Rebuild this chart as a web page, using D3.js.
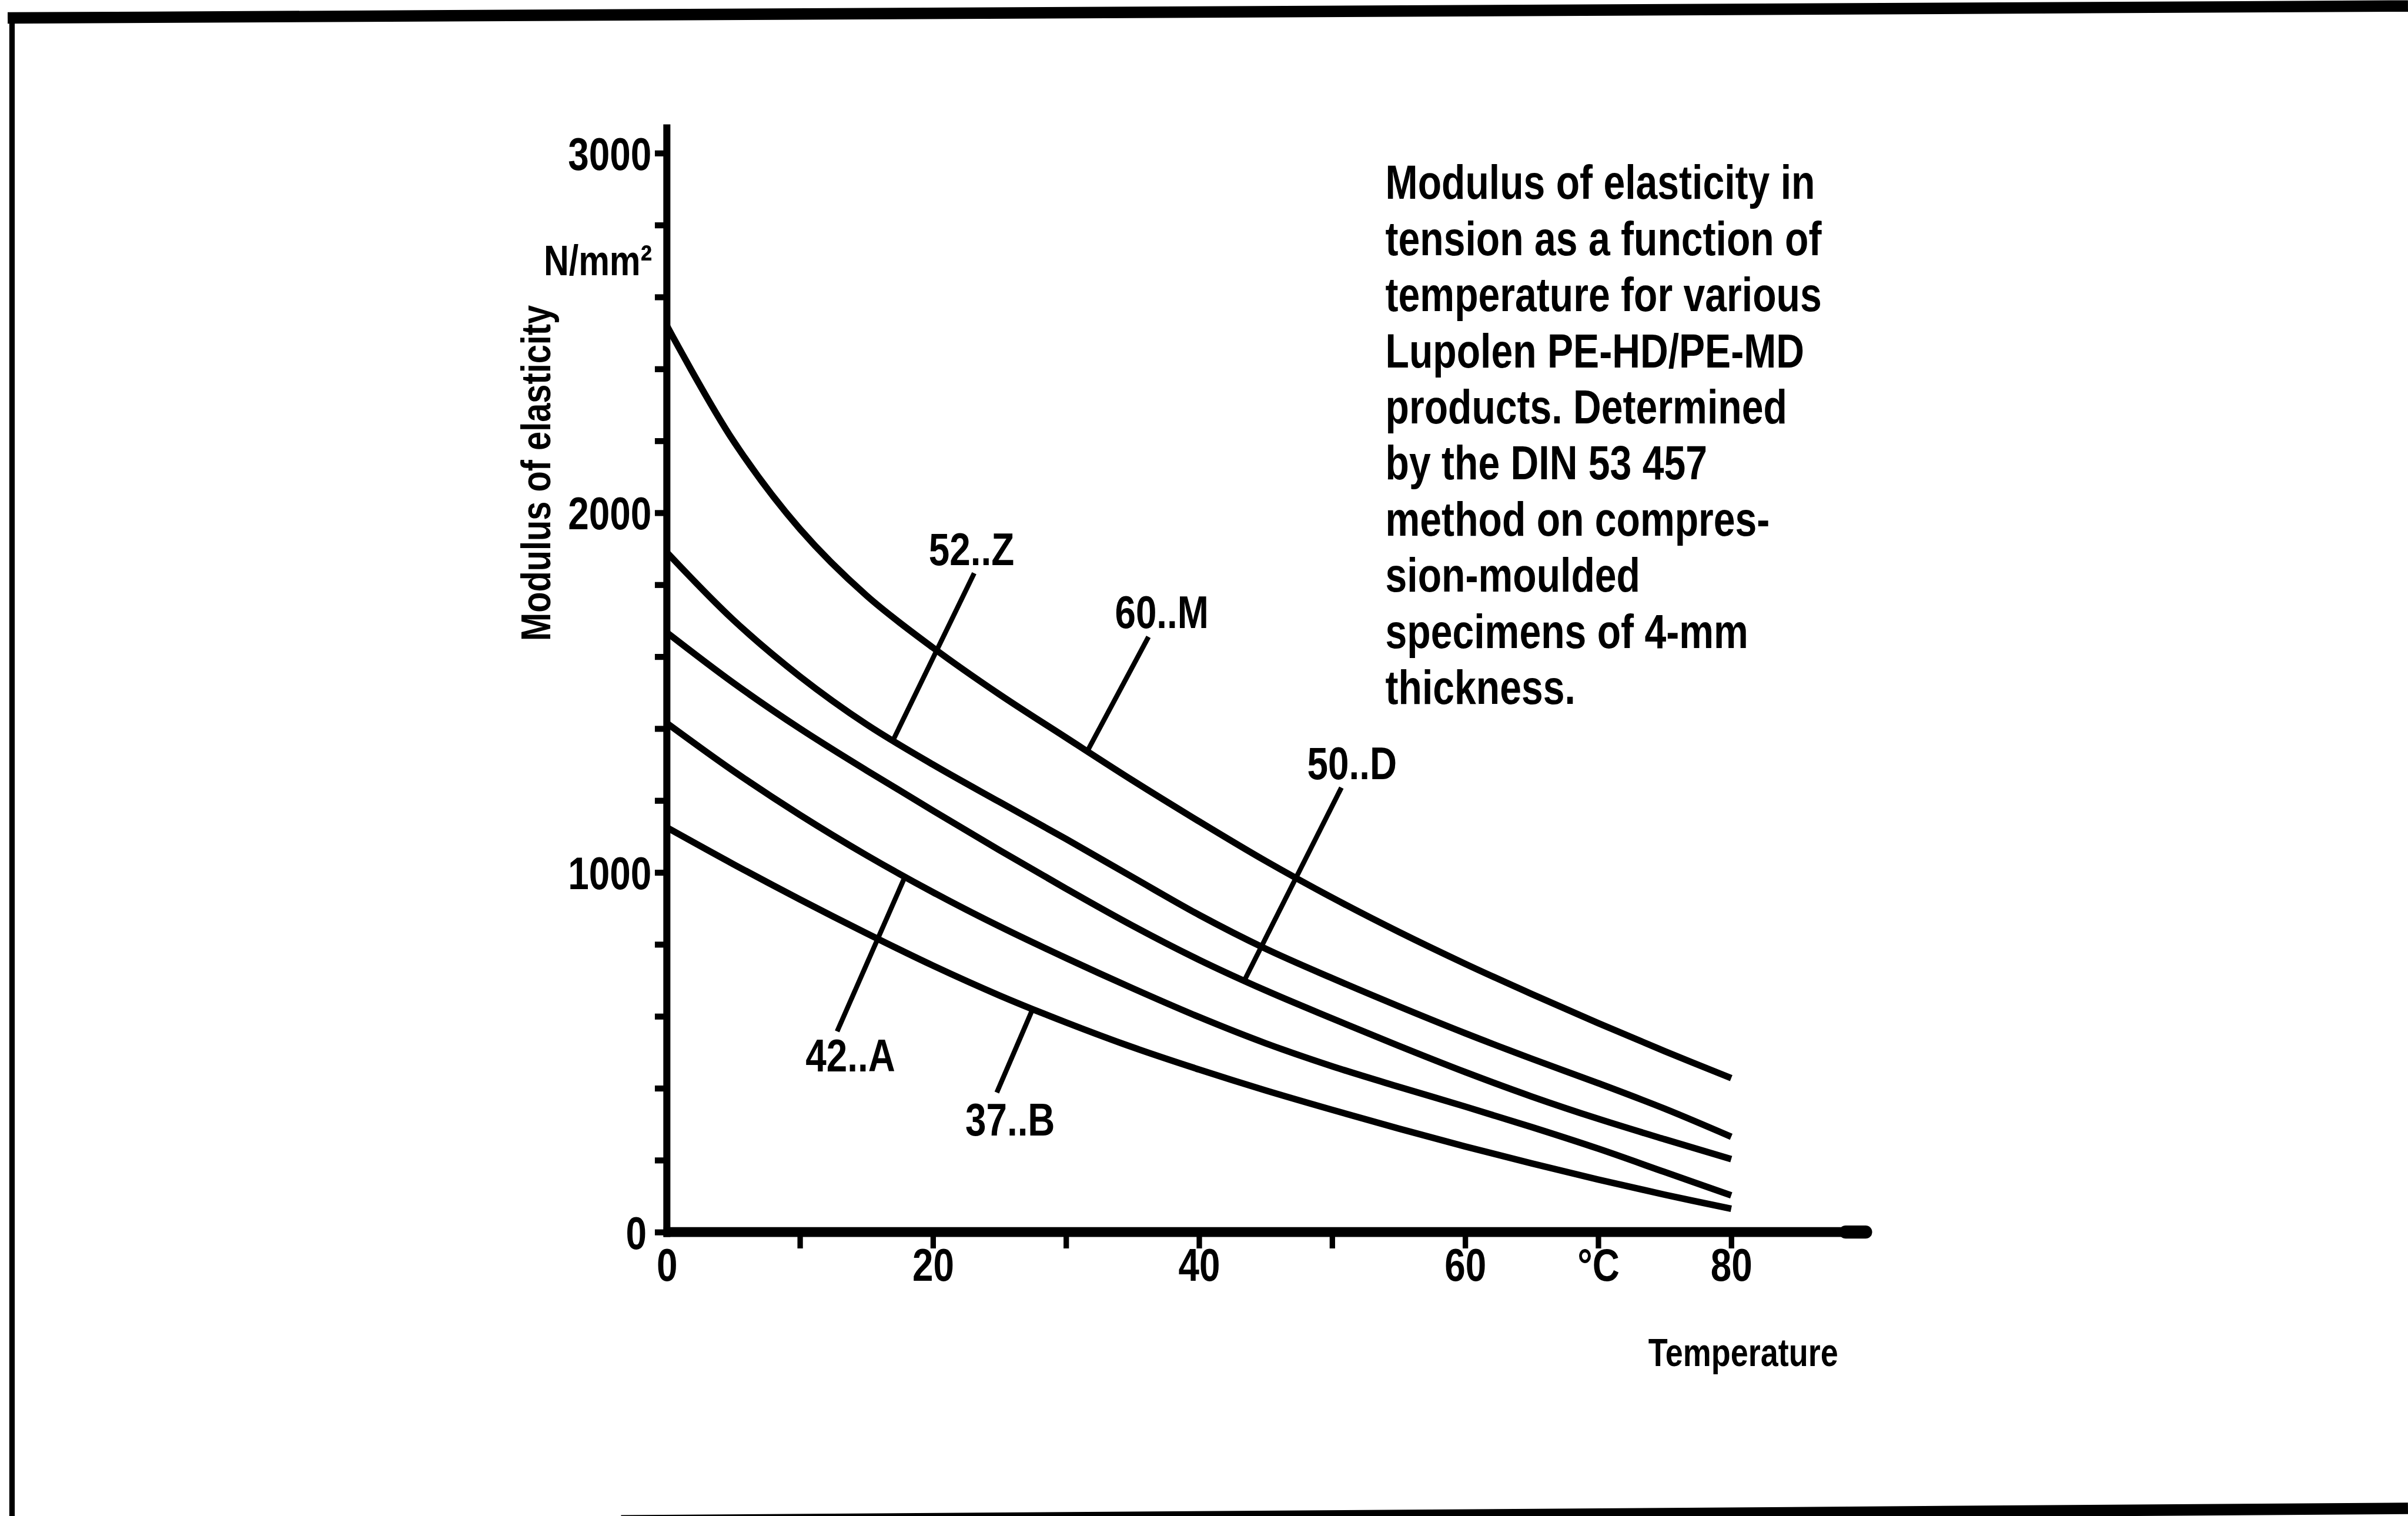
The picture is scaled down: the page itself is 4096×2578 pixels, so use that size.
<!DOCTYPE html>
<html>
<head>
<meta charset="utf-8">
<script src="https://cdn.jsdelivr.net/npm/d3@7"></script>
<style>
  html, body { margin: 0; padding: 0; background: #fff; }
  svg { display: block; }
  text {
    font-family: "Liberation Sans", Arial, sans-serif;
    font-weight: bold;
    fill: #000;
  }
</style>
</head>
<body>
<svg id="canvas"></svg>
<script>
// temperature in °C
const temps = [0, 5, 10, 15, 20, 25, 30, 35, 40, 45, 50, 55, 60, 65, 70, 75, 80]

// modulus of elasticity in N/mm² for each grade
const m60 = [2520, 2200, 1955, 1770, 1625, 1495, 1375, 1256, 1142, 1032, 930, 835, 746, 662, 581, 503, 428]
const z52 = [1890, 1702, 1545, 1412, 1300, 1196, 1093, 987, 882, 788, 706, 628, 553, 482, 414, 343, 265]
const d50 = [1667, 1527, 1400, 1284, 1172, 1062, 955, 852, 757, 672, 594, 518, 445, 377, 315, 258, 203]
const a42 = [1415, 1282, 1160, 1048, 945, 850, 762, 678, 598, 525, 461, 404, 349, 292, 232, 167, 102]
const b37 = [1125, 1023, 925, 831, 741, 658, 583, 514, 452, 394, 340, 288, 238, 191, 146, 104, 65]

const gradeNames = ['60..M', '52..Z', '50..D', '42..A', '37..B']
const gradeValues = [m60, z52, d50, a42, b37]

// leader lines: temperature where they leave the curve, and the point they run to
const leaderFromT = [31.6, 17.0, 43.4, 17.9, 27.5]
const leaderToT = [36.2, 23.1, 50.7, 12.8, 24.8]
const leaderToE = [1655, 1832, 1236, 558, 388]
// label anchors (data units)
const labelT = [37.2, 22.9, 51.5, 13.8, 25.8]
const labelE = [1680, 1855, 1259, 447, 268]

// ticks
const yTicks = [0, 200, 400, 600, 800, 1000, 1200, 1400, 1600, 1800, 2000, 2200, 2400, 2600, 2800, 3000]
const yTickLabels = [0, 1000, 2000, 3000]
const xTicks = [0, 10, 20, 30, 40, 50, 60, 70, 80]
const xTickLabels = { 0: '0', 20: '20', 40: '40', 60: '60', 70: '°C', 80: '80' }

const noteLines = [
    'Modulus of elasticity in',
    'tension as a function of',
    'temperature for various',
    'Lupolen PE-HD/PE-MD',
    'products. Determined',
    'by the DIN 53 457',
    'method on compres-',
    'sion-moulded',
    'specimens of 4-mm',
    'thickness.'
]

// drawing is done in the original 4420 x 2782 space and scaled down by the viewBox
const W = 4420
const H = 2782
// the lettering is a narrow grotesque: squeeze the regular bold face
const narrow = 'scale(0.82,1)'

let canvas = d3.select('#canvas')
    .attr('viewBox', `0 0 ${W} ${H}`)
    .attr('width', 4096)
    .attr('height', 2578)

let x = d3.scaleLinear().domain([0, 90]).range([1224, 3422])
let y = d3.scaleLinear().domain([0, 3000]).range([2261, 281])

let addText = (parent, px, py, str, size, anchor, rotate) => {
    parent.append('g')
        .attr('transform', 'translate(' + px + ',' + py + ')' + (rotate ? ' rotate(' + rotate + ')' : ''))
        .append('text')
        .attr('transform', narrow)
        .attr('text-anchor', anchor)
        .attr('font-size', size)
        .text(str)
}

// frame of the scanned page
let frame = canvas.append('g').attr('stroke', '#000').attr('fill', 'none')
frame.append('line').attr('x1', 14).attr('y1', 33).attr('x2', W).attr('y2', 11).attr('stroke-width', 21)
frame.append('line').attr('x1', 22).attr('y1', 24).attr('x2', 22).attr('y2', H).attr('stroke-width', 10)
frame.append('line').attr('x1', 1140).attr('y1', 2791).attr('x2', W).attr('y2', 2768).attr('stroke-width', 21)

// y axis ticks and labels
let yAxis = canvas.append('g')
    .attr('transform', 'translate(' + x(0) + ',0)')
    .call(d3.axisLeft(y)
        .tickValues(yTicks)
        .tickSize(22)
        .tickPadding(6)
        .tickFormat((d) => yTickLabels.includes(d) ? d : ''))
yAxis.select('.domain').remove()
yAxis.selectAll('.tick line').attr('stroke', '#000').attr('stroke-width', 11)
yAxis.selectAll('.tick text')
    .attr('font-size', 84)
    .attr('font-family', null)
    .attr('x', null)
    .attr('dy', '0.36em')
    .attr('transform', (d) => 'translate(' + (d === 0 ? -37 : -28) + ',0) ' + narrow)

// x axis ticks and labels
let xAxis = canvas.append('g')
    .attr('transform', 'translate(0,' + y(0) + ')')
    .call(d3.axisBottom(x)
        .tickValues(xTicks)
        .tickSize(30)
        .tickPadding(0)
        .tickFormat((d) => xTickLabels[d] || ''))
xAxis.select('.domain').remove()
xAxis.selectAll('.tick line')
    .attr('stroke', '#000')
    .attr('stroke-width', 10)
    .attr('display', (d) => d === 0 ? 'none' : null)
xAxis.selectAll('.tick text')
    .attr('font-size', 84)
    .attr('font-family', null)
    .attr('transform', narrow)

// the axis lines themselves
canvas.append('line')
    .attr('x1', x(0)).attr('x2', x(0))
    .attr('y1', y(3080)).attr('y2', y(0) + 9)
    .attr('stroke', '#000').attr('stroke-width', 13)
canvas.append('line')
    .attr('x1', x(0) - 6).attr('x2', x(90.2))
    .attr('y1', y(0)).attr('y2', y(0))
    .attr('stroke', '#000').attr('stroke-width', 18)
canvas.append('line')
    .attr('x1', x(88.6)).attr('x2', x(90.1))
    .attr('y1', y(0)).attr('y2', y(0))
    .attr('stroke', '#000').attr('stroke-width', 24).attr('stroke-linecap', 'round')

// curves
let line = d3.line()
    .x((d) => x(d[0]))
    .y((d) => y(d[1]))
    .curve(d3.curveCatmullRom.alpha(0.5))

canvas.append('g')
    .selectAll('path')
    .data(gradeValues)
    .enter()
    .append('path')
    .attr('d', (vals) => line(temps.map((t, i) => [t, vals[i]])))
    .attr('fill', 'none')
    .attr('stroke', '#000')
    .attr('stroke-width', 12)
    .attr('stroke-linejoin', 'round')

// value of a grade at temperature t (linear between read points)
let valueAt = (vals, t) => {
    let i = Math.min(Math.floor(t / 5), temps.length - 2)
    let f = (t - temps[i]) / (temps[i + 1] - temps[i])
    return vals[i] + f * (vals[i + 1] - vals[i])
}

// leader lines and grade labels
let notes = canvas.append('g')
gradeNames.forEach((name, i) => {
    notes.append('line')
        .attr('x1', x(leaderFromT[i]))
        .attr('y1', y(valueAt(gradeValues[i], leaderFromT[i])))
        .attr('x2', x(leaderToT[i]))
        .attr('y2', y(leaderToE[i]))
        .attr('stroke', '#000')
        .attr('stroke-width', 9)
    addText(notes, x(labelT[i]), y(labelE[i]), name, 84, 'middle')
})

// axis titles
addText(canvas, 1010, 868, 'Modulus of elasticity', 76, 'middle', -90)
addText(canvas, 1197, 505, 'N/mm²', 78, 'end')
addText(canvas, 3374, 2507, 'Temperature', 71, 'end')

// caption block
let caption = canvas.append('g')
noteLines.forEach((str, i) => {
    addText(caption, 2543, 365 + i * 103, str, 87, 'start')
})
</script>
</body>
</html>
